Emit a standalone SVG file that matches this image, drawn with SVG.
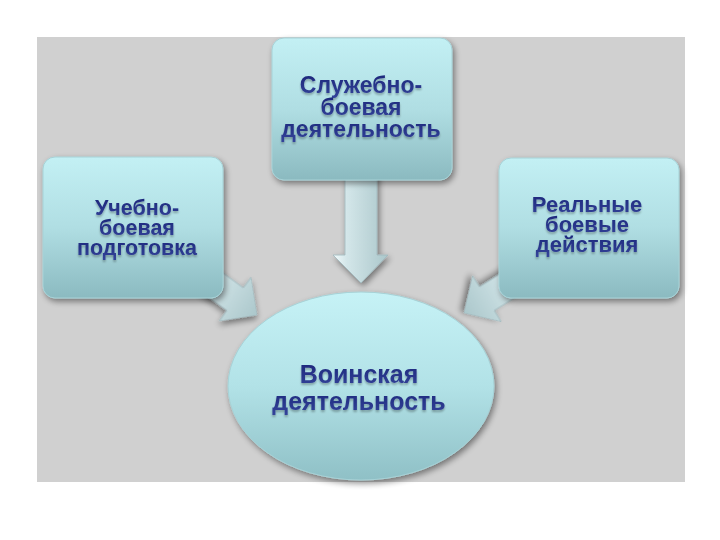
<svg xmlns="http://www.w3.org/2000/svg" width="720" height="540" viewBox="0 0 720 540">
  <defs>
    <linearGradient id="boxGrad" x1="0" y1="0" x2="0" y2="1">
      <stop offset="0" stop-color="#c3f0f4"/>
      <stop offset="0.5" stop-color="#b0dee3"/>
      <stop offset="1" stop-color="#8bbac0"/>
    </linearGradient>
    <linearGradient id="ellGrad" x1="0" y1="0" x2="0" y2="1">
      <stop offset="0" stop-color="#c6f2f6"/>
      <stop offset="0.5" stop-color="#b2e2e7"/>
      <stop offset="1" stop-color="#8fc0c6"/>
    </linearGradient>
    <linearGradient id="arrGrad" x1="0" y1="0" x2="1" y2="0">
      <stop offset="0" stop-color="#f2fafb"/>
      <stop offset="0.25" stop-color="#d3e6e9"/>
      <stop offset="1" stop-color="#abc7cb"/>
    </linearGradient>
    <linearGradient id="txtGrad" x1="0" y1="0" x2="0" y2="1">
      <stop offset="0" stop-color="#1a2478"/>
      <stop offset="1" stop-color="#34449a"/>
    </linearGradient>
    <filter id="shadow" x="-20%" y="-20%" width="140%" height="140%">
      <feGaussianBlur in="SourceAlpha" stdDeviation="3"/>
      <feOffset dx="2" dy="3" result="b"/>
      <feComponentTransfer><feFuncA type="linear" slope="0.45"/></feComponentTransfer>
      <feMerge><feMergeNode/><feMergeNode in="SourceGraphic"/></feMerge>
    </filter>
    <filter id="tshadow" x="-10%" y="-20%" width="120%" height="150%">
      <feGaussianBlur in="SourceAlpha" stdDeviation="1"/>
      <feOffset dx="0" dy="2" result="b"/>
      <feComponentTransfer><feFuncA type="linear" slope="0.3"/></feComponentTransfer>
      <feMerge><feMergeNode/><feMergeNode in="SourceGraphic"/></feMerge>
    </filter>
  </defs>
  <style>
    .box { fill: url(#boxGrad); stroke: #a6d2d7; stroke-width: 1; filter: url(#shadow); }
    .ell { fill: url(#ellGrad); stroke: #a6d2d7; stroke-width: 1; filter: url(#shadow); }
    .arr { fill: url(#arrGrad); stroke: #9fb8bc; stroke-width: 0.8; filter: url(#shadow); }
    .t { font-family: "Liberation Sans", Arial, sans-serif; font-weight: bold; fill: url(#txtGrad); text-anchor: middle; filter: url(#tshadow); }
    .tt { font-size: 23px; }
    .tlft { font-size: 21.5px; }
    .tr { font-size: 22px; }
    .tl { font-size: 25px; }
  </style>

  <rect x="37" y="37" width="648" height="445" fill="#d0d0d0"/>

  <g id="connectors">
    <path class="arr" d="M345,172 L377,172 L377,255 L388,255 L361,283 L333,255 L345,255 Z"/>
    <path class="arr" transform="translate(257,315) rotate(36)" d="M0,0 L-27,-27 L-27,-14 L-75,-14 L-75,14 L-27,14 L-27,27 Z"/>
    <path class="arr" transform="translate(464,313) rotate(148)" d="M0,0 L-27,-27 L-27,-14 L-75,-14 L-75,14 L-27,14 L-27,27 Z"/>
  </g>

  <g id="node-top">
    <rect class="box" x="272" y="38" width="180" height="142" rx="12" ry="12"/>
    <text class="t tt" x="361" y="93">Служебно-</text>
    <text class="t tt" x="361" y="115">боевая</text>
    <text class="t tt" x="361" y="137">деятельность</text>
  </g>

  <g id="node-left">
    <rect class="box" x="43" y="157" width="180" height="141" rx="12" ry="12"/>
    <text class="t tlft" x="137" y="215">Учебно-</text>
    <text class="t tlft" x="137" y="235">боевая</text>
    <text class="t tlft" x="137" y="255">подготовка</text>
  </g>

  <g id="node-right">
    <rect class="box" x="499" y="158" width="180" height="140" rx="12" ry="12"/>
    <text class="t tr" x="587" y="212">Реальные</text>
    <text class="t tr" x="587" y="232">боевые</text>
    <text class="t tr" x="587" y="252">действия</text>
  </g>

  <g id="node-center">
    <ellipse class="ell" cx="361" cy="386" rx="133" ry="94"/>
    <text class="t tl" x="359" y="383">Воинская</text>
    <text class="t tl" x="359" y="410">деятельность</text>
  </g>
</svg>
